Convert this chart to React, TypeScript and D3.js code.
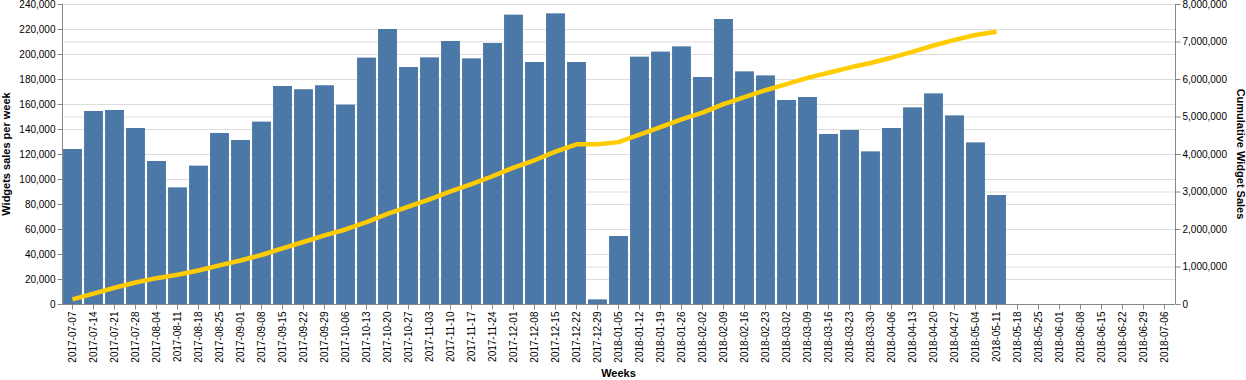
import React, { useEffect, useRef } from "react";
import * as d3 from "d3";

const weeks: string[] = [
  "2017-07-07","2017-07-14","2017-07-21","2017-07-28","2017-08-04","2017-08-11","2017-08-18","2017-08-25",
  "2017-09-01","2017-09-08","2017-09-15","2017-09-22","2017-09-29","2017-10-06","2017-10-13","2017-10-20",
  "2017-10-27","2017-11-03","2017-11-10","2017-11-17","2017-11-24","2017-12-01","2017-12-08","2017-12-15",
  "2017-12-22","2017-12-29","2018-01-05","2018-01-12","2018-01-19","2018-01-26","2018-02-02","2018-02-09",
  "2018-02-16","2018-02-23","2018-03-02","2018-03-09","2018-03-16","2018-03-23","2018-03-30","2018-04-06",
  "2018-04-13","2018-04-20","2018-04-27","2018-05-04","2018-05-11","2018-05-18","2018-05-25","2018-06-01",
  "2018-06-08","2018-06-15","2018-06-22","2018-06-29","2018-07-06",
];

// weekly sales (only first 45 weeks have data)
const weeklySales: number[] = [
  124000, 154400, 155200, 140800, 114400, 93300, 110700, 136800,
  131200, 145900, 174400, 171800, 175000, 159500, 197100, 220000,
  189600, 197300, 210400, 196500, 208800, 231500, 193600, 232500,
  193600, 3700, 54400, 197900, 201900, 206100, 181600, 228000,
  186100, 182900, 163200, 165600, 136000, 139200, 122100, 140800,
  157300, 168500, 150900, 129300, 87200,
];

const leftTicks: number[] = [0, 20000, 40000, 60000, 80000, 100000, 120000, 140000, 160000, 180000, 200000, 220000, 240000];
const rightTicks: number[] = [0, 1000000, 2000000, 3000000, 4000000, 5000000, 6000000, 7000000, 8000000];

const W = 1246, H = 380;
const M = { left: 62, right: 71, top: 4, bottom: 76 };
const FONT = "'Liberation Sans', Arial, sans-serif";

export default function App() {
  const ref = useRef<SVGSVGElement>(null);
  useEffect(() => {
    const svg = d3.select(ref.current);
    svg.selectAll("*").remove();
    const x0 = M.left, x1 = W - M.right, y0 = H - M.bottom, y1 = M.top;

    const x = d3.scaleBand<string>().domain(weeks).range([x0, x1]).paddingInner(0.1).paddingOuter(0.05);
    const yL = d3.scaleLinear().domain([0, 240000]).range([y0, y1]);
    const yR = d3.scaleLinear().domain([0, 8000000]).range([y0, y1]);
    const cum = Array.from(d3.cumsum(weeklySales));

    const g = svg.append("g");
    // grids
    g.append("g").selectAll("line").data(leftTicks).join("line")
      .attr("x1", x0).attr("x2", x1).attr("y1", d => yL(d) + 0.5).attr("y2", d => yL(d) + 0.5)
      .attr("stroke", "#ddd");
    g.append("g").selectAll("line").data(rightTicks).join("line")
      .attr("x1", x0).attr("x2", x1).attr("y1", d => yR(d) + 0.5).attr("y2", d => yR(d) + 0.5)
      .attr("stroke", "#ddd");

    // bars
    g.append("g").selectAll("rect").data(weeklySales).join("rect")
      .attr("x", (d, i) => x(weeks[i])!)
      .attr("width", x.bandwidth())
      .attr("y", d => yL(d))
      .attr("height", d => y0 - yL(d))
      .attr("fill", "#4c78a8");

    // cumulative line
    const line = d3.line<number>()
      .x((d, i) => x(weeks[i])! + x.bandwidth() / 2)
      .y(d => yR(d));
    g.append("path").datum(cum).attr("d", line).attr("fill", "none")
      .attr("stroke", "#ffcc00").attr("stroke-width", 4.5).attr("stroke-linejoin", "round");

    // left axis
    const la = g.append("g").attr("transform", `translate(${x0 + 0.5},0)`)
      .call(d3.axisLeft(yL).tickValues(leftTicks).tickSize(5).tickPadding(2).tickFormat(d3.format(",")));
    // right axis
    const ra = g.append("g").attr("transform", `translate(${x1 + 0.5},0)`)
      .call(d3.axisRight(yR).tickValues(rightTicks).tickSize(5).tickPadding(2).tickFormat(d3.format(",")));
    // bottom axis
    const ba = g.append("g").attr("transform", `translate(0,${y0 + 0.5})`)
      .call(d3.axisBottom(x).tickSize(5).tickSizeOuter(0).tickPadding(2));
    ba.selectAll("text")
      .attr("transform", "rotate(-90)")
      .attr("text-anchor", "end")
      .attr("x", -7).attr("y", 0).attr("dy", "0.32em");

    [la, ra, ba].forEach(a => {
      a.select(".domain").attr("stroke", "#888");
      a.selectAll(".tick line").attr("stroke", "#888");
      a.selectAll("text").attr("fill", "#000").style("font-family", FONT).style("font-size", "10px");
    });
    la.select(".domain").attr("d", `M0,${y0}V${y1}`);
    ra.select(".domain").attr("d", `M0,${y0}V${y1}`);
    ba.select(".domain").attr("d", `M${x0},0H${x1}`);

    // titles
    g.append("text").attr("transform", `translate(10,${(y0 + y1) / 2}) rotate(-90)`)
      .attr("text-anchor", "middle").style("font-family", FONT).style("font-size", "11px")
      .style("font-weight", "bold").text("Widgets sales per week");
    g.append("text").attr("transform", `translate(1237,${(y0 + y1) / 2}) rotate(90)`)
      .attr("text-anchor", "middle").style("font-family", FONT).style("font-size", "11px")
      .style("font-weight", "bold").text("Cumulative Widget Sales");
    g.append("text").attr("x", (x0 + x1) / 2).attr("y", 377)
      .attr("text-anchor", "middle").style("font-family", FONT).style("font-size", "11px")
      .style("font-weight", "bold").text("Weeks");
  }, []);
  return (
    <svg ref={ref} width={W} height={H} style={{ position: "absolute", left: 0, top: 0, background: "#fff" }} />
  );
}
